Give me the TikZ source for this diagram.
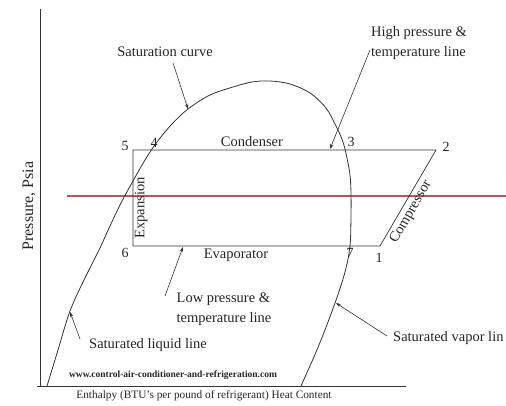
\documentclass[tikz,border=0pt]{standalone}
\usepackage{fontspec}
\setmainfont{Liberation Serif}
\usetikzlibrary{arrows.meta}
\definecolor{redline}{RGB}{178,88,94}
\begin{document}
\begin{tikzpicture}[x=1pt,y=-1pt,
  lbl/.style={font=\fontsize{14.5}{20}\selectfont, inner sep=0pt, text=black!85},
  num/.style={font=\fontsize{14}{14}\selectfont, inner sep=0pt, text=black!85},
  ln/.style={line width=0.7pt, draw=black!80},
  pointer/.style={line width=0.6pt, draw=black!80, -{Stealth[length=5pt,width=3.5pt]}},
]
\useasboundingbox[fill=white] (0,0) rectangle (506,406);

% axes
\coordinate (ytop) at (40,9);
\coordinate (orig) at (40,386);
\coordinate (xstart) at (37,386);
\coordinate (xend) at (406,386);
\draw[ln, line width=0.9pt] (ytop) -- (orig);
\draw[ln, line width=0.9pt] (xstart) -- (xend);

% red line
\coordinate (rl) at (67,196);
\coordinate (rr) at (506,196);
\draw[redline, line width=1.4pt] (rl) -- (rr);

% cycle points
\coordinate (c5) at (133,150);
\coordinate (c2) at (436,150);
\coordinate (c6) at (133,246);
\coordinate (c1) at (380,246);
\draw[ln] (c5) -- (c2) -- (c1) -- (c6) -- cycle;

% saturation curve
\draw[ln, line width=0.8pt] plot[smooth, tension=0.55] coordinates {
 (47,386) (58,350) (70,311) (84,280) (99,250) (110,226) (121,203) (133,181)
 (145,160) (157,142) (172,124) (188,109) (210,95) (233,87) (252,82) (270,81)
 (290,84) (310,93) (326,108) (336,126) (343,142) (347,158) (350,175) (351,193)
 (351,215) (350,246) (345,272) (335,303) (319,345) (301,386)};

% numbers
\node[num] (n5) at (125,146) {5};
\node[num] (n4) at (154,143) {4};
\node[num] (n3) at (351,142) {3};
\node[num] (n2) at (446,147) {2};
\node[num] (n6) at (125,253) {6};
\node[num] (n7) at (350,253) {7};
\node[num] (n1) at (379,258) {1};

% component labels
\node[lbl] (cond) at (252,142) {Condenser};
\node[lbl] (evap) at (236,255) {Evaporator};
\node[lbl, rotate=90] (expa) at (141,208) {Expansion};
\node[lbl, rotate=60] (comp) at (411,212) {Compressor};

% callout labels
\node[lbl] (satc) at (165,52) {Saturation curve};
\node[lbl, align=left] (hp) at (419,43) {High pressure \&\\temperature line};
\node[lbl, align=left] (lp) at (224,309) {Low pressure \&\\temperature line};
\node[lbl] (sll) at (148,345) {Saturated liquid line};
\node[lbl, anchor=west] (svl) at (393,338) {Saturated vapor lin};

% arrows
\coordinate (a1s) at (173,63);  \coordinate (a1e) at (188,109);
\coordinate (a2s) at (370,50);  \coordinate (a2e) at (330,149);
\coordinate (a3s) at (165,296); \coordinate (a3e) at (183,247);
\coordinate (a4s) at (80,339);  \coordinate (a4e) at (70,312);
\coordinate (a5s) at (387,336); \coordinate (a5e) at (336,303);
\draw[pointer] (a1s) -- (a1e);
\draw[pointer] (a2s) -- (a2e);
\draw[pointer] (a3s) -- (a3e);
\draw[pointer] (a4s) -- (a4e);
\draw[pointer] (a5s) -- (a5e);

% axis labels
\node[font=\fontsize{16}{16}\selectfont, rotate=90, inner sep=0pt, text=black!85] (ylab) at (29,206) {Pressure, Psia};
\node[font=\bfseries\fontsize{9.5}{10}\selectfont, inner sep=0pt, text=black!85] (www) at (173,375) {www.control-air-conditioner-and-refrigeration.com};
\node[font=\fontsize{11.3}{12}\selectfont, inner sep=0pt, text=black!85] (xlab) at (204,396) {Enthalpy (BTU's per pound of refrigerant) Heat Content};
\end{tikzpicture}
\end{document}
